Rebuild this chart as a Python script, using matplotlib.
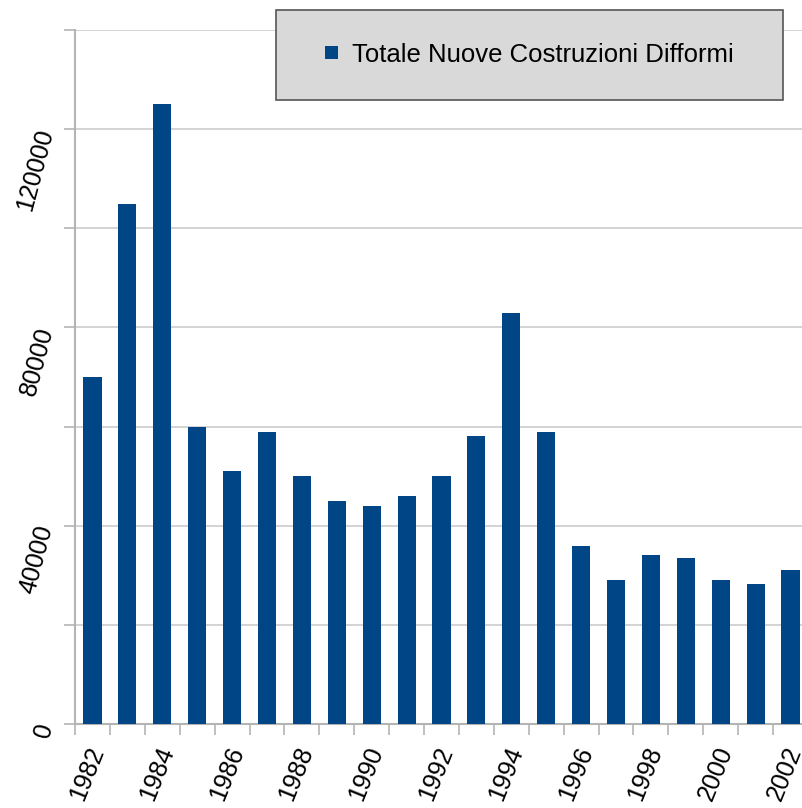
import numpy as np
import matplotlib
matplotlib.use("Agg")
import matplotlib.pyplot as plt
from matplotlib.patches import Rectangle
from matplotlib.transforms import ScaledTranslation

years = list(range(1982, 2003))
values = [70000, 105000, 125000, 60000, 51000, 59000, 50000, 45000, 44000, 46000,
          50000, 58000, 83000, 59000, 36000, 29000, 34000, 33500, 29000, 28300, 31000]
series_name = "Totale Nuove Costruzioni Difformi"
y_labels = [0, 40000, 80000, 120000]

plt.rcParams["font.family"] = ["Liberation Sans", "DejaVu Sans"]

W, H = 803, 808
fig = plt.figure(figsize=(W / 100, H / 100), dpi=100)
ax = fig.add_axes([75 / W, 1 - 724 / H, 733 / W, (724 - 30) / H])

x = np.arange(len(years))
bars = ax.bar(x, values, width=0.52, color="#004586", zorder=3, label=series_name)

ax.set_xlim(-0.5, len(years) - 0.5)
ax.set_ylim(0, 140000)

# horizontal grid every 20000, labels every 40000
yt = np.arange(0, 140001, 20000)
ax.set_yticks(yt)
ax.set_yticklabels([str(v) if v in y_labels else "" for v in yt],
                   rotation=75, fontsize=18, ha="right", va="center", rotation_mode="anchor")
ax.grid(axis="y", color="#cccccc", linewidth=1.2, zorder=0)
ax.tick_params(axis="y", length=8, width=1.2, color="#b4b4b4", pad=13)

# x: labels at bar centres (every other year), tick marks at category boundaries
ax.set_xticks(x[::2])
ax.set_xticklabels([str(y) for y in years[::2]], rotation=68, fontsize=18,
                   ha="right", va="center", rotation_mode="anchor")
ax.set_xticks(np.arange(-0.5, len(years), 1), minor=True)
ax.tick_params(axis="x", which="major", length=0, pad=17)
ax.tick_params(axis="x", which="minor", length=8, width=1.2, color="#b4b4b4")
shift = ScaledTranslation(5 / 100, 0, fig.dpi_scale_trans)
for lab in ax.get_xticklabels():
    lab.set_transform(lab.get_transform() + shift)

for side in ["top", "right"]:
    ax.spines[side].set_visible(False)
for side in ["left", "bottom"]:
    ax.spines[side].set_color("#b4b4b4")
    ax.spines[side].set_linewidth(1.5)

# legend box
fig.patches.append(Rectangle((276 / W, 1 - 100 / H), (783 - 276) / W, 90 / H,
                             transform=fig.transFigure, facecolor="#d9d9d9",
                             edgecolor="#555555", linewidth=1.2, zorder=5))
fig.legend(handles=[bars], labels=[series_name], loc="center", frameon=False,
           bbox_to_anchor=((276 + 783) / 2 / W, 1 - 55 / H), fontsize=18.5,
           handlelength=0.5, handleheight=0.38, handletextpad=0.55)

fig.savefig("out.png", dpi=100)
